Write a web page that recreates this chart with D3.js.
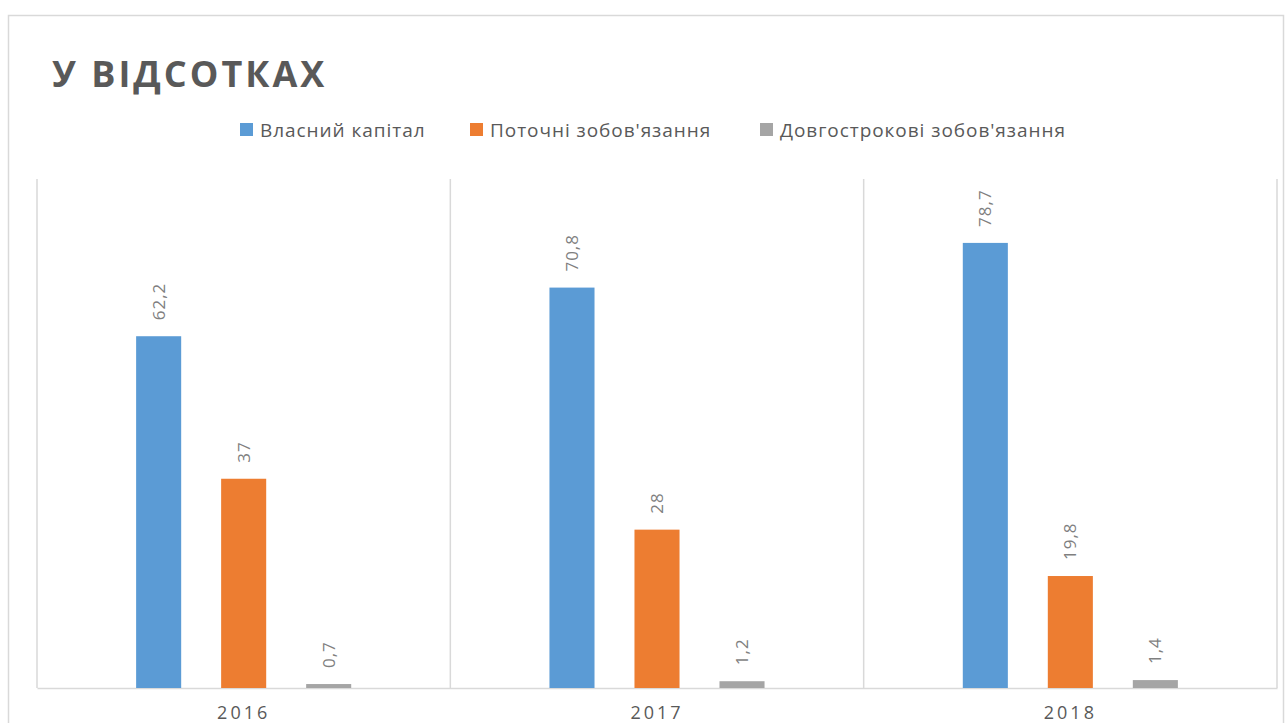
<!DOCTYPE html>
<html>
<head>
<meta charset="utf-8">
<script src="https://cdn.jsdelivr.net/npm/d3@7/dist/d3.min.js"></script>
<style>
  html, body { margin: 0; padding: 0; background: #fff; }
  svg { display: block; }
</style>
</head>
<body>
<svg id="chart" width="1285" height="723"></svg>
<script>
const years = ["2016", "2017", "2018"];
const seriesNames = ["Власний капітал", "Поточні зобов'язання", "Довгострокові зобов'язання"];
const seriesColors = ["#5b9bd5", "#ed7d31", "#a5a5a5"];
const equity = [62.2, 70.8, 78.7];
const currentLiab = [37, 28, 19.8];
const longLiab = [0.7, 1.2, 1.4];
const seriesValues = [equity, currentLiab, longLiab];
const titleText = "У ВІДСОТКАХ";

const svg = d3.select("#chart");
const plot = { left: 37, right: 1277, top: 179, bottom: 688 };

// outer border
svg.append("rect")
  .attr("x", 8.5).attr("y", 15.5)
  .attr("width", 1275).attr("height", 720)
  .attr("fill", "#fff").attr("stroke", "#d9d9d9").attr("stroke-width", 1.5);

// title
svg.append("text")
  .attr("x", 52).attr("y", 87)
  .attr("font-family", "'Open Sans', sans-serif")
  .attr("font-weight", "700")
  .attr("font-size", 36)
  .attr("letter-spacing", 3)
  .attr("fill", "#595959")
  .text(titleText);

const x0 = d3.scaleBand().domain(years).range([plot.left, plot.right]).paddingInner(0).paddingOuter(0);
const x1 = d3.scaleBand().domain(d3.range(seriesNames.length))
  .range([0, x0.bandwidth()]).paddingInner(0.47).paddingOuter(1.166);
const y = d3.scaleLinear().domain([0, 90]).range([plot.bottom, plot.top]);

// vertical category separators
const sepPos = years.map(d => x0(d)).concat([plot.right]);
svg.append("g").selectAll("line").data(sepPos).join("line")
  .attr("x1", d => d).attr("x2", d => d)
  .attr("y1", plot.top).attr("y2", plot.bottom)
  .attr("stroke", "#d9d9d9").attr("stroke-width", 1.5);

// x axis baseline and labels
const xAxis = d3.axisBottom(x0).tickSize(0).tickPadding(18);
const gx = svg.append("g").attr("transform", `translate(0,${plot.bottom})`).call(xAxis);
gx.select(".domain").attr("stroke", "#d9d9d9").attr("stroke-width", 1.5);
gx.selectAll("text")
  .attr("font-family", "'Open Sans', sans-serif")
  .attr("font-size", 18)
  .attr("letter-spacing", 3)
  .attr("fill", "#595959");

// bars
const groups = svg.append("g").selectAll("g").data(years).join("g")
  .attr("transform", d => `translate(${x0(d)},0)`);
groups.selectAll("rect")
  .data((d, i) => seriesValues.map((s, k) => ({ k, v: s[i] })))
  .join("rect")
  .attr("x", d => x1(d.k))
  .attr("width", x1.bandwidth())
  .attr("y", d => y(d.v))
  .attr("height", d => y(0) - y(d.v))
  .attr("fill", d => seriesColors[d.k]);

// data labels (rotated)
groups.selectAll("text.lbl")
  .data((d, i) => seriesValues.map((s, k) => ({ k, v: s[i] })))
  .join("text")
  .attr("class", "lbl")
  .attr("transform", d => `translate(${x1(d.k) + x1.bandwidth() / 2},${y(d.v) - 16}) rotate(-90)`)
  .attr("dy", "0.35em")
  .attr("text-anchor", "start")
  .attr("font-family", "'Open Sans', sans-serif")
  .attr("font-size", 17)
  .attr("letter-spacing", 1)
  .attr("fill", "#7f7f7f")
  .text(d => String(d.v).replace(".", ","));

// legend
const legendX = [240, 470, 760];
const lg = svg.append("g").selectAll("g").data(seriesNames).join("g")
  .attr("transform", (d, i) => `translate(${legendX[i]},123)`);
lg.append("rect").attr("width", 13).attr("height", 13).attr("fill", (d, i) => seriesColors[i]);
lg.append("text")
  .attr("x", 20).attr("y", 13.5)
  .attr("font-family", "'Open Sans', sans-serif")
  .attr("font-size", 19)
  .attr("letter-spacing", 0.95)
  .attr("fill", "#595959")
  .text(d => d);
</script>
</body>
</html>
